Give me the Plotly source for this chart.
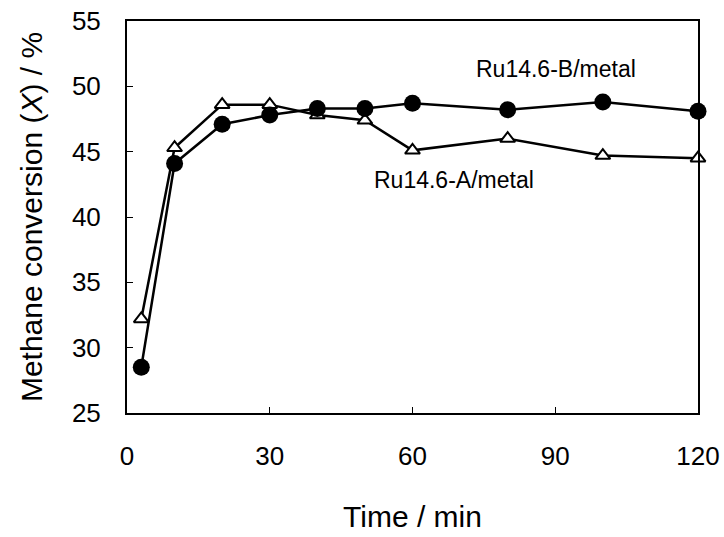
import plotly.graph_objects as go

# Data
time_min = [3, 10, 20, 30, 40, 50, 60, 80, 100, 120]
conv_A = [32.2, 45.3, 48.6, 48.6, 47.8, 47.4, 45.1, 46.0, 44.7, 44.5]   # Ru14.6-A/metal (open triangles)
conv_B = [28.5, 44.1, 47.1, 47.8, 48.3, 48.3, 48.7, 48.2, 48.8, 48.1]   # Ru14.6-B/metal (filled circles)

x_ticks = [0, 30, 60, 90, 120]
y_ticks = [25, 30, 35, 40, 45, 50, 55]

label_B = "Ru14.6-B/metal"
label_A = "Ru14.6-A/metal"
label_B_pos = (90.2, 51.3)
label_A_pos = (68.7, 42.8)

FONT = "Liberation Sans, Arial, Helvetica, sans-serif"

fig = go.Figure()
fig.add_trace(go.Scatter(
    x=time_min, y=conv_A, mode="lines+markers", name=label_A,
    line=dict(color="black", width=2.5),
    marker=dict(symbol="triangle-up", size=13, color="white",
                line=dict(color="black", width=2)),
    cliponaxis=False,
))
fig.add_trace(go.Scatter(
    x=time_min, y=conv_B, mode="lines+markers", name=label_B,
    line=dict(color="black", width=2.5),
    marker=dict(symbol="circle", size=17, color="black",
                line=dict(color="black", width=0)),
    cliponaxis=False,
))

fig.add_annotation(x=label_B_pos[0], y=label_B_pos[1], text=label_B, showarrow=False,
                   font=dict(family=FONT, size=23, color="black"))
fig.add_annotation(x=label_A_pos[0], y=label_A_pos[1], text=label_A, showarrow=False,
                   font=dict(family=FONT, size=23, color="black"))

fig.update_layout(
    width=724, height=537,
    margin=dict(l=127, r=26, t=21, b=124),
    paper_bgcolor="white", plot_bgcolor="white",
    showlegend=False,
    font=dict(family=FONT, color="black"),
)
fig.update_xaxes(
    range=[0, 120], tickvals=x_ticks, ticktext=[str(v) for v in x_ticks],
    ticks="inside", ticklen=6, tickwidth=1, tickcolor="black",
    showline=True, linecolor="black", linewidth=2, mirror=True,
    showgrid=False, zeroline=False,
    tickfont=dict(family=FONT, size=26, color="black"),
    ticklabelstandoff=19,
    title=dict(text="Time / min", font=dict(family=FONT, size=30, color="black"), standoff=36),
    automargin=False,
)
fig.update_yaxes(
    range=[25, 55], tickvals=y_ticks, ticktext=[str(v) for v in y_ticks],
    ticks="inside", ticklen=6, tickwidth=1, tickcolor="black",
    showline=True, linecolor="black", linewidth=2, mirror=True,
    showgrid=False, zeroline=False,
    tickfont=dict(family=FONT, size=26, color="black"),
    ticklabelstandoff=19,
    title=dict(text="Methane conversion (<i>X</i>) / %", font=dict(family=FONT, size=30, color="black"), standoff=20),
    automargin=False,
)

fig.write_html("out.html")
